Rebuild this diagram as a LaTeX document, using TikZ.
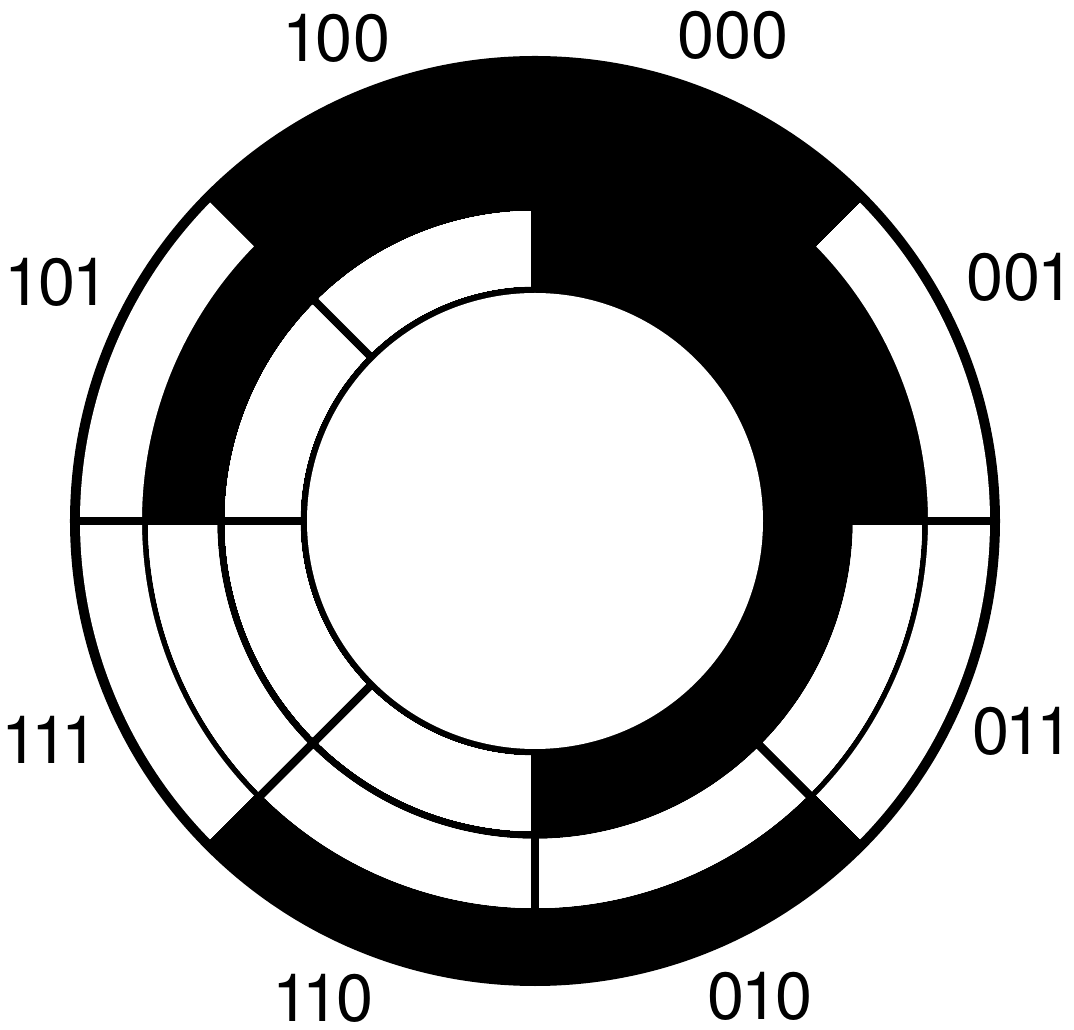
\documentclass[tikz,border=0pt]{standalone}
\usepackage{fontspec}
\setmainfont{TeX Gyre Heros}
\tikzset{
  disc/.style={fill=black},
  hole/.style={fill=white},
  spoke/.style={draw=black,line width=5.6pt},
  code/.style={font=\fontsize{50}{60}\selectfont,inner sep=0pt}
}
\newcommand{\cellarc}[4]{\fill[hole] (#1:#3) arc (#1:#2:#3) -- (#2:#4) arc (#2:#1:#4) -- cycle;}
\newcommand{\onek}{\kern-2.6pt 1\kern-2.6pt}
\begin{document}
\begin{tikzpicture}[x=0.75pt,y=0.75pt]
\useasboundingbox (-535,-509) rectangle (539,521);
\fill[disc] (0,0) circle (465);
% outer track
\foreach \from/\to in {0/45,-45/0,180/225,135/180}
  \cellarc{\from}{\to}{393}{455}
% middle track
\foreach \from/\to in {-45/0,-90/-45,-135/-90,180/225}
  \cellarc{\from}{\to}{318}{387}
% inner track
\foreach \from/\to in {225/270,180/225,135/180,90/135}
  \cellarc{\from}{\to}{235}{310}
\foreach \a in {0,45,...,315}
  \draw[spoke] (\a:230) -- (\a:460);
\fill[hole] (0,0) circle (228);
\node[code] (c100) at (-197,483) {\onek00};
\node[code] (c000) at (198,486) {000};
\node[code] (c001) at (484,244) {00\onek};
\node[code] (c101) at (-478,239) {\onek0\onek};
\node[code] (c011) at (486,-210) {0\onek\onek};
\node[code] (c111) at (-485,-219) {\onek\onek\onek};
\node[code] (c110) at (-210,-477) {\onek\onek0};
\node[code] (c010) at (225,-475) {0\onek0};
\end{tikzpicture}
\end{document}
